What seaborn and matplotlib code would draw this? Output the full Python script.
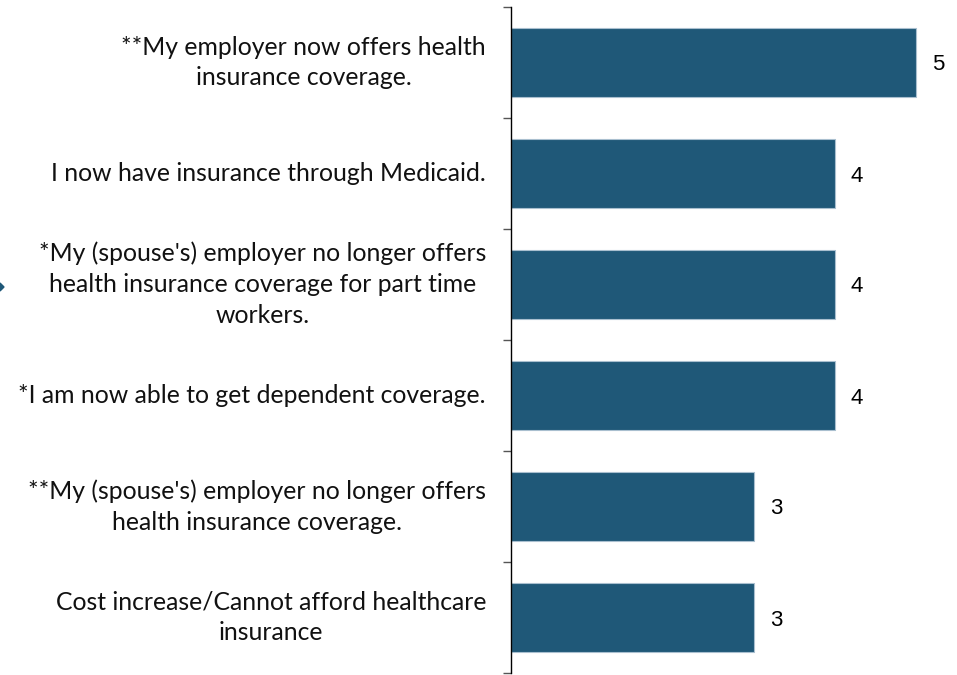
import matplotlib
matplotlib.use("Agg")
import matplotlib.pyplot as plt
import seaborn as sns
import pandas as pd
import numpy as np

reasons = [
    "**My employer now offers health\ninsurance coverage.",
    "I now have insurance through Medicaid.",
    "*My (spouse's) employer no longer offers\nhealth insurance coverage for part time\nworkers.",
    "*I am now able to get dependent coverage.",
    "**My (spouse's) employer no longer offers\nhealth insurance coverage.",
    "Cost increase/Cannot afford healthcare\ninsurance",
]
values = [5, 4, 4, 4, 3, 3]

df = pd.DataFrame({"reason": reasons, "value": values})

sns.set_style("white")
plt.rcParams["font.family"] = ["Lato", "DejaVu Sans"]

fig = plt.figure(figsize=(9.57, 6.75), dpi=100)
ax = fig.add_axes([511 / 957, 2 / 675, 446 / 957, 666 / 675])

bar_color = "#1F5878"
sns.barplot(data=df, y="reason", x="value", orient="h", color=bar_color,
            width=0.62, edgecolor="#A9BFCF", linewidth=0.8, saturation=1,
            ax=ax)

ax.set_xlim(0, 5.5)
ax.set_ylim(len(reasons) - 0.5, -0.5)
ax.set_xlabel("")
ax.set_ylabel("")
ax.set_xticks([])

for s in ["top", "right", "bottom"]:
    ax.spines[s].set_visible(False)
ax.spines["left"].set_color("#000000")
ax.spines["left"].set_linewidth(1.0)

# category labels on major ticks (no tick marks), boundary ticks as minor
ax.set_yticks(range(len(reasons)))
ax.set_yticklabels(reasons, fontsize=17.8, color="#111111", linespacing=1.42)
ax.tick_params(axis="y", which="major", length=0, pad=18, left=True)
for lbl in ax.get_yticklabels():
    lbl.set_multialignment("center")
    lbl.set_verticalalignment("center")
ax.set_yticks(np.arange(-0.5, len(reasons), 1.0), minor=True)
ax.tick_params(axis="y", which="minor", length=6, width=1.0, color="#555555",
               direction="out", left=True)

for i, v in enumerate(values):
    ax.text(v + 0.19, i, f"{v}", va="center_baseline", ha="left", fontsize=16,
            family="Liberation Sans", color="#000000")

# small pointer mark at the left edge
pointer = plt.Polygon(np.array([[0, 675 - 283], [4, 675 - 287], [0, 675 - 291]]),
                      closed=True, color=bar_color,
                      transform=matplotlib.transforms.IdentityTransform())
fig.patches.append(pointer)

fig.savefig("out.png", dpi=100, facecolor="white")
